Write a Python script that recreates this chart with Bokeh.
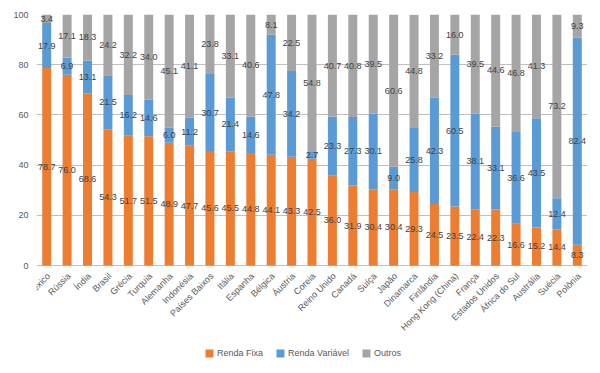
import math
from bokeh.plotting import figure
from bokeh.models import ColumnDataSource, FactorRange, Range1d, Legend, LegendItem
from bokeh.core.properties import value
from bokeh.embed import file_html
from bokeh.resources import INLINE

countries = ["México", "Rússia", "Índia", "Brasil", "Grécia", "Turquia", "Alemanha",
             "Indonésia", "Países Baixos", "Itália", "Espanha", "Bélgica", "Áustria",
             "Coreia", "Reino Unido", "Canadá", "Suíça", "Japão", "Dinamarca",
             "Finlândia", "Hong Kong (China)", "França", "Estados Unidos",
             "África do Sul", "Austrália", "Suécia", "Polônia"]
renda_fixa = [78.7, 76.0, 68.6, 54.3, 51.7, 51.5, 48.9, 47.7, 45.6, 45.5, 44.8, 44.1,
              43.3, 42.5, 36.0, 31.9, 30.4, 30.4, 29.3, 24.5, 23.5, 22.4, 22.3, 16.6,
              15.2, 14.4, 8.3]
renda_variavel = [17.9, 6.9, 13.1, 21.5, 16.2, 14.6, 6.0, 11.2, 30.7, 21.4, 14.6, 47.8,
                  34.2, 2.7, 23.3, 27.3, 30.1, 9.0, 25.8, 42.3, 60.5, 38.1, 33.1, 36.6,
                  43.5, 12.4, 82.4]
outros = [3.4, 17.1, 18.3, 24.2, 32.2, 34.0, 45.1, 41.1, 23.8, 33.1, 40.6, 8.1, 22.5,
          54.8, 40.7, 40.8, 39.5, 60.6, 44.8, 33.2, 16.0, 39.5, 44.6, 46.8, 41.3, 73.2,
          9.3]
y_ticks = [0, 20, 40, 60, 80, 100]

series = ["Renda Fixa", "Renda Variável", "Outros"]
colors = ["#ED7D31", "#5B9BD5", "#A5A5A5"]
FONT = "Liberation Sans"

src = ColumnDataSource(dict(country=countries, rf=renda_fixa, rv=renda_variavel, ot=outros))

# the frame reaches down to the legend; the value axis runs 0..100 in its upper part
p = figure(x_range=FactorRange(*countries, range_padding=0), y_range=Range1d(-43, 100),
           frame_width=551, frame_height=359, output_backend="svg", toolbar_location=None,
           min_border_left=36, min_border_right=0, min_border_top=14, min_border_bottom=0)
p.outline_line_color = None

r = p.vbar_stack(["rf", "rv", "ot"], x="country", width=0.44, color=colors, source=src,
                 line_color=None)

# data labels at the middle of each segment
lab_x, lab_y, lab_t = [], [], []
for i, c in enumerate(countries):
    a, b, o = renda_fixa[i], renda_variavel[i], outros[i]
    for base, v in ((0, a), (a, b), (a + b, o)):
        lab_x.append(c)
        lab_y.append(base + v / 2)
        lab_t.append(f"{v:.1f}")
p.text(x=lab_x, y=lab_y, text=lab_t, text_align="center", text_baseline="middle",
       text_font=value(FONT), text_font_size="9px", text_color="#404040")

# category labels, rotated 45 degrees, ending under each bar
p.text(x=countries, y=[0] * len(countries), text=countries, angle=math.pi / 4,
       text_align="right", text_baseline="middle", x_offset=2, y_offset=9,
       text_font=value(FONT), text_font_size="9px", text_color="#595959")

p.yaxis.ticker = y_ticks
p.yaxis.axis_line_color = None
p.yaxis.major_tick_line_color = None
p.yaxis.minor_tick_line_color = None
p.yaxis.major_tick_out = 0
p.yaxis.major_label_standoff = 8
p.yaxis.major_label_text_font = FONT
p.yaxis.major_label_text_font_size = "9px"
p.yaxis.major_label_text_color = "#595959"

p.xaxis.visible = False
p.xgrid.grid_line_color = None
p.ygrid.grid_line_color = "#C0C0C0"
p.ygrid.ticker = y_ticks

legend = Legend(items=[LegendItem(label=s, renderers=[rr]) for s, rr in zip(series, r)],
                orientation="horizontal", location=(168, 14),
                label_text_font=FONT, label_text_font_size="9px",
                label_text_color="#595959", glyph_width=10, glyph_height=10,
                label_height=12, label_standoff=3, spacing=12,
                border_line_color=None, background_fill_alpha=0,
                margin=0, padding=0)
p.add_layout(legend, "center")

open("out.html", "w").write(file_html(p, INLINE))
